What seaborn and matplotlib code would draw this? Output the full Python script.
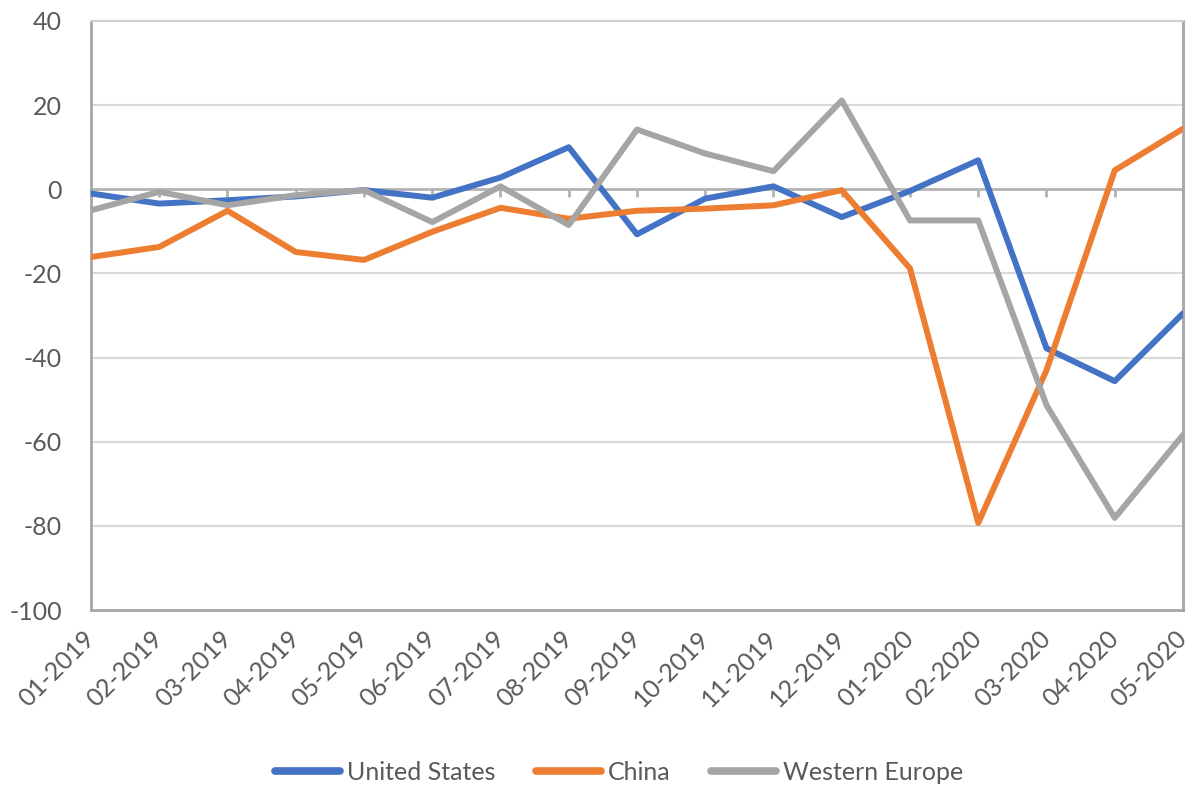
import matplotlib
matplotlib.use("Agg")
import matplotlib.pyplot as plt
from matplotlib.markers import TICKDOWN
import seaborn as sns
import pandas as pd
import numpy as np

months = ["01-2019", "02-2019", "03-2019", "04-2019", "05-2019", "06-2019",
          "07-2019", "08-2019", "09-2019", "10-2019", "11-2019", "12-2019",
          "01-2020", "02-2020", "03-2020", "04-2020", "05-2020"]
united_states = [-1.0, -3.4, -2.6, -1.7, -0.2, -2.0, 2.8, 10.0, -10.7, -2.2, 0.7, -6.6,
                 -0.4, 6.9, -37.8, -45.6, -29.5]
china = [-16.1, -13.7, -5.1, -14.9, -16.8, -10.1, -4.4, -7.0, -5.1, -4.6, -3.8, -0.2,
         -18.8, -79.3, -43.0, 4.5, 14.4]
western_europe = [-5.0, -0.6, -3.8, -1.4, -0.2, -7.8, 0.7, -8.5, 14.2, 8.5, 4.3, 21.1,
                  -7.4, -7.4, -51.3, -78.1, -58.4]
series_names = ["United States", "China", "Western Europe"]
y_ticks = [-100, -80, -60, -40, -20, 0, 20, 40]

colors = ["#4472C4", "#ED7D31", "#A5A5A5"]

sns.set_theme(style="white")
plt.rcParams['font.family'] = ['Lato', 'DejaVu Sans']

idx = np.arange(len(months))
frames = []
for name, vals in zip(series_names, [united_states, china, western_europe]):
    frames.append(pd.DataFrame({"pos": idx, "value": vals, "series": name}))
df = pd.concat(frames, ignore_index=True)

fig = plt.figure(figsize=(11.97, 7.87), dpi=100)
ax = fig.add_axes([91/1197, 1 - 610/787, (1183 - 91)/1197, (610 - 21)/787])

for y in y_ticks:
    if y not in (0, -100, 40):
        ax.axhline(y, color="#d9d9d9", lw=1.5, zorder=0)

# category axis at zero with tick marks
ax.axhline(0, color="#b3b3b3", lw=2, zorder=1)
ax.plot(idx, np.zeros(len(idx)), linestyle="none", marker=TICKDOWN,
        markersize=6, markeredgewidth=2, color="#b3b3b3", zorder=1, clip_on=False)

sns.lineplot(data=df, x="pos", y="value", hue="series", hue_order=series_names,
             palette=colors, linewidth=4.3, ax=ax, sort=False, legend=False,
             zorder=3)

ax.set_xlim(0, len(months) - 1)
ax.set_ylim(-100, 40)
ax.set_yticks(y_ticks)
ax.set_yticklabels([str(v) for v in y_ticks])
ax.set_xticks(idx)
ax.set_xticklabels(months, rotation=45, ha="right", va="center", rotation_mode="anchor")
ax.set_xlabel("")
ax.set_ylabel("")
ax.tick_params(axis="y", length=0, pad=21, labelsize=18, labelcolor="#595959")
ax.tick_params(axis="x", length=0, pad=18, labelsize=18, labelcolor="#595959")

for side in ["left", "right", "bottom"]:
    ax.spines[side].set_color("#a6a6a6")
    ax.spines[side].set_linewidth(2)
ax.spines["top"].set_color("#cfcfcf")
ax.spines["top"].set_linewidth(1.5)

handles = [plt.Line2D([], [], color=c, lw=5.5, solid_capstyle="round") for c in colors]
fig.legend(handles, series_names, loc="center", ncol=3,
           bbox_to_anchor=(619/1197, 1 - 772/787), frameon=False,
           fontsize=18, labelcolor="#595959", handlelength=2.6,
           handletextpad=0.3, columnspacing=1.6)

fig.savefig("out.png", dpi=100, facecolor="white")
